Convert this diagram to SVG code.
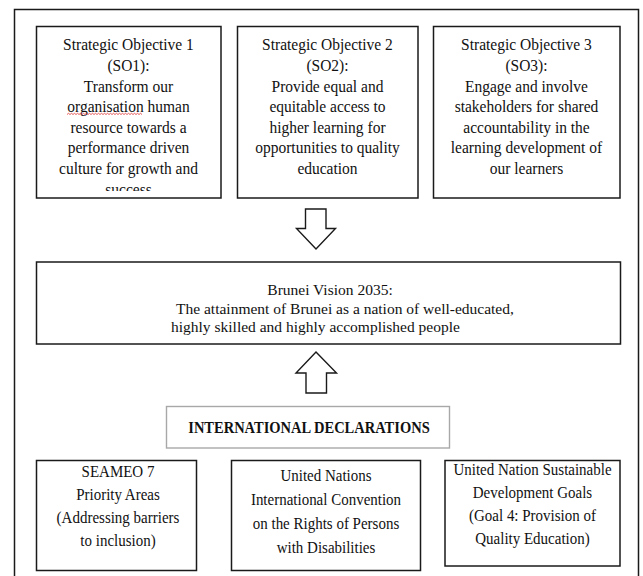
<svg xmlns="http://www.w3.org/2000/svg" width="643" height="576" viewBox="0 0 643 576">
<style>
.box{fill:#fff;stroke:#1a1a1a;stroke-width:1.5}
.gbox{fill:#fff;stroke:#a8a8a8;stroke-width:1.4}
.arrow{fill:#fff;stroke:#1a1a1a;stroke-width:1.4;stroke-linejoin:miter}
text{font-family:"Liberation Serif","Times New Roman",serif;fill:#111;transform-box:fill-box;transform-origin:50% 60%;transform:scaleY(1.1)}
text.n{transform:none}
.t{font-size:15.5px;text-anchor:middle}
.l{font-size:15.5px}
.b{font-size:15px;text-anchor:middle}
.h{font-size:14.5px;font-weight:bold;text-anchor:middle}
</style>
<defs>
<clipPath id="clip1"><rect x="36" y="26" width="185" height="165"/></clipPath>
</defs>
<rect width="643" height="576" fill="#fff"/>
<path d="M14.5,590 V9.5 H638.5 V590" fill="none" stroke="#1a1a1a" stroke-width="1.5"/>

<g id="so1">
<rect class="box" x="36.5" y="26.5" width="184.5" height="171.5"/>
<g clip-path="url(#clip1)">
<text class="t" x="128.5" y="50">Strategic Objective 1</text>
<text class="t" x="128.5" y="70.6">(SO1):</text>
<text class="t" x="128.5" y="91.2">Transform our</text>
<text class="t" x="128.5" y="111.8">organisation human</text>
<text class="t" x="128.5" y="132.4">resource towards a</text>
<text class="t" x="128.5" y="153">performance driven</text>
<text class="t" x="128.5" y="173.6">culture for growth and</text>
<text class="t" x="128.5" y="194.2">success</text>
</g>
<path d="M67,114.5 l1.5,-1.2 1.5,1.2 1.5,-1.2 1.5,1.2 1.5,-1.2 1.5,1.2 1.5,-1.2 1.5,1.2 1.5,-1.2 1.5,1.2 1.5,-1.2 1.5,1.2 1.5,-1.2 1.5,1.2 1.5,-1.2 1.5,1.2 1.5,-1.2 1.5,1.2 1.5,-1.2 1.5,1.2 1.5,-1.2 1.5,1.2 1.5,-1.2 1.5,1.2 1.5,-1.2 1.5,1.2 1.5,-1.2 1.5,1.2 1.5,-1.2 1.5,1.2 1.5,-1.2 1.5,1.2 1.5,-1.2 1.5,1.2 1.5,-1.2 1.5,1.2 1.5,-1.2 1.5,1.2 1.5,-1.2 1.5,1.2 1.5,-1.2 1.5,1.2 1.5,-1.2 1.5,1.2 1.5,-1.2 1.5,1.2 1.5,-1.2 1.5,1.2 1.5,-1.2 1.5,1.2" fill="none" stroke="#e03030" stroke-width="0.8"/>
</g>

<g id="so2">
<rect class="box" x="237.5" y="26.5" width="180.5" height="171.5"/>
<text class="t" x="327.5" y="50">Strategic Objective 2</text>
<text class="t" x="327.5" y="70.6">(SO2):</text>
<text class="t" x="327.5" y="91.2">Provide equal and</text>
<text class="t" x="327.5" y="111.8">equitable access to</text>
<text class="t" x="327.5" y="132.4">higher learning for</text>
<text class="t" x="327.5" y="153">opportunities to quality</text>
<text class="t" x="327.5" y="173.6">education</text>
</g>

<g id="so3">
<rect class="box" x="433.5" y="26.5" width="186.5" height="171.5"/>
<text class="t" x="526.5" y="50">Strategic Objective 3</text>
<text class="t" x="526.5" y="70.6">(SO3):</text>
<text class="t" x="526.5" y="91.2">Engage and involve</text>
<text class="t" x="526.5" y="111.8">stakeholders for shared</text>
<text class="t" x="526.5" y="132.4">accountability in the</text>
<text class="t" x="526.5" y="153">learning development of</text>
<text class="t" x="526.5" y="173.6">our learners</text>
</g>

<g id="vision">
<rect class="box" x="36.5" y="262" width="584" height="82"/>
<text class="t n" x="330" y="295">Brunei Vision 2035:</text>
<text class="l n" x="176" y="313.5">The attainment of Brunei as a nation of well-educated,</text>
<text class="l n" x="171" y="332">highly skilled and highly accomplished people</text>
</g>

<g id="intl">
<rect class="gbox" x="166.5" y="406.5" width="283" height="41.5"/>
<text class="h" x="309" y="433">INTERNATIONAL DECLARATIONS</text>
</g>

<g id="seameo">
<rect class="box" x="36.5" y="460.5" width="160" height="110"/>
<text class="b" x="118" y="477">SEAMEO 7</text>
<text class="b" x="118" y="500">Priority Areas</text>
<text class="b" x="118" y="523">(Addressing barriers</text>
<text class="b" x="118" y="546">to inclusion)</text>
</g>

<g id="uncrpd">
<rect class="box" x="231.5" y="460.5" width="189" height="110"/>
<text class="b" x="326" y="481">United Nations</text>
<text class="b" x="326" y="505">International Convention</text>
<text class="b" x="326" y="529">on the Rights of Persons</text>
<text class="b" x="326" y="553">with Disabilities</text>
</g>

<g id="sdg">
<rect class="box" x="445" y="460.5" width="175" height="105.5"/>
<text class="b" x="532.5" y="475">United Nation Sustainable</text>
<text class="b" x="532.5" y="498">Development Goals</text>
<text class="b" x="532.5" y="521">(Goal 4: Provision of</text>
<text class="b" x="532.5" y="544">Quality Education)</text>
</g>

<g id="connectors">
<polygon class="arrow" points="305.5,209 326,209 326,228.5 335.5,228.5 316,249 296.5,228.5 305.5,228.5"/>
<polygon class="arrow" points="316,352 336.5,373 326.5,373 326.5,393 306,393 306,373 296,373"/>
</g>
</svg>
